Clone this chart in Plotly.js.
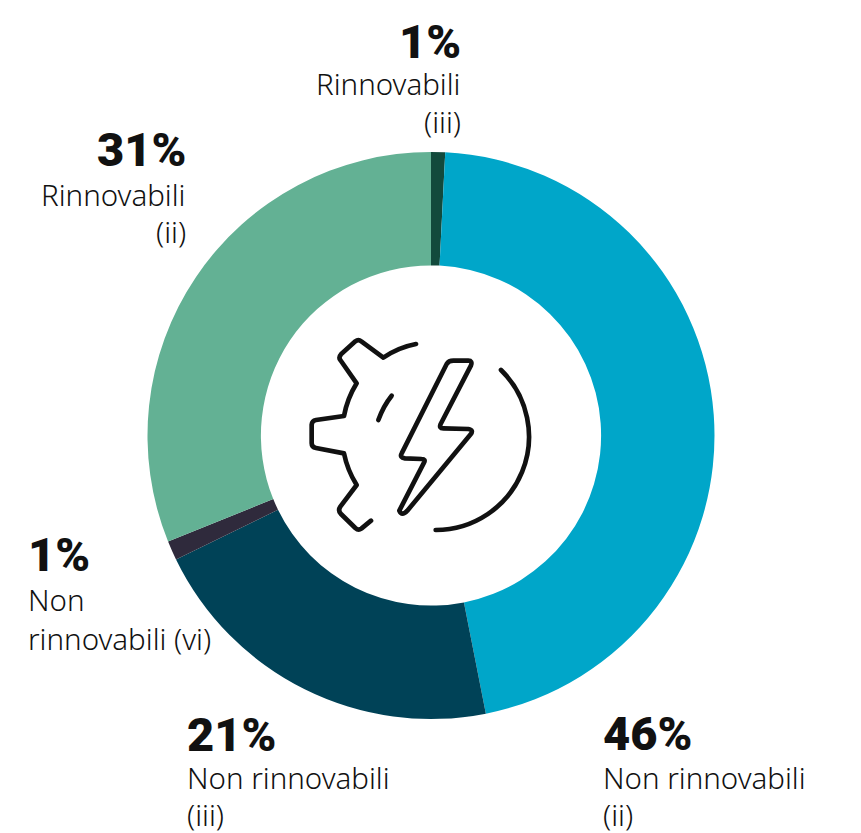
<!DOCTYPE html>
<html><head><meta charset="utf-8">
<script src="https://cdn.plot.ly/plotly-3.0.1.min.js"></script>
<style>html,body{margin:0;padding:0;background:#fff}#c{width:861px;height:833px}</style>
</head><body><div id="c"></div>
<script>
const categories = ['Rinnovabili (iii)','Non rinnovabili (ii)','Non rinnovabili (iii)','Non rinnovabili (vi)','Rinnovabili (ii)'];
const values = [0.8,46.1,20.9,1.1,31.1];
const colors = ['#124a3c','#00a6c9','#004257','#2f2a3c','#63b194'];
const W=861,H=833;
const cx=431,cy=435.5,R=283.5;
const pct = ['1%','46%','21%','1%','31%'];
const line1 = ['Rinnovabili','Non rinnovabili','Non rinnovabili','Non','Rinnovabili'];
const line2 = ['(iii)','(ii)','(iii)','rinnovabili (vi)','(ii)'];
const anchorX = [461,603,187,28,186];
const align = ['right','left','left','left','right'];
const yPct = [41,733,734,554,149];
const y1 = [84,777,777,599,194];
const y2 = [121,814,814,638,232];
const ann=(t,x,y,al,size,weight,fam)=>({text:t,xref:'paper',yref:'paper',x:x/W,y:1-y/H,xanchor:al,yanchor:'middle',showarrow:false,align:al,
  font:{family:fam,size:size,color:'#111',weight:weight},borderpad:0,borderwidth:0});
const annotations=[];
pct.forEach((p,i)=>{
  annotations.push(ann(p,anchorX[i],yPct[i],align[i],47,900,'Roboto, sans-serif'));
  annotations.push(ann(line1[i],anchorX[i],y1[i],align[i],29.5,300,'"Noto Sans", sans-serif'));
  annotations.push(ann(line2[i],anchorX[i],y2[i],align[i],29.5,300,'"Noto Sans", sans-serif'));
});
const icon=`<svg xmlns="http://www.w3.org/2000/svg" viewBox="0 0 780 690" width="780" height="690"><g fill="none" stroke="#111" stroke-width="14" stroke-linecap="round" stroke-linejoin="round"><path d="M378 72Q325 82 280 113L214 64Q205 57 196 64L153 103Q145 112 151 120L200 190Q172 235 162 288L78 300Q66 302 65 314L65 370Q65 382 78 384L162 400Q172 450 200 495L151 560Q143 572 153 582L196 624Q205 632 214 626L243 602"/><path d="M305 227Q280 258 265 300"/><path d="M490 122L535 122Q548 122 543 136L452 312Q446 325 460 325L535 327Q552 330 542 343L352 572Q335 590 328 572L402 428Q408 417 395 417L345 415Q328 412 335 400L470 132Q476 122 490 122Z"/><path d="M633 150A280 280 0 0 1 437 630"/></g></svg>`;
Plotly.newPlot('c',[{
  type:'pie',labels:categories,values:values,hole:0.6,sort:false,direction:'clockwise',rotation:0,
  textinfo:'none',hoverinfo:'label+percent',showlegend:false,
  marker:{colors:colors,line:{width:0}},
  domain:{x:[(cx-R)/W,(cx+R)/W],y:[1-(cy+R)/H,1-(cy-R)/H]}
}],{
  width:W,height:H,margin:{l:0,r:0,t:0,b:0},paper_bgcolor:'#fff',showlegend:false,
  annotations:annotations,
  images:[{source:'data:image/svg+xml;charset=utf-8,'+encodeURIComponent(icon),xref:'paper',yref:'paper',x:290/W,y:1-320/H,sizex:260/W,sizey:230/H,sizing:'stretch',xanchor:'left',yanchor:'top',layer:'above'}]
},{displayModeBar:false,staticPlot:true});
</script></body></html>
